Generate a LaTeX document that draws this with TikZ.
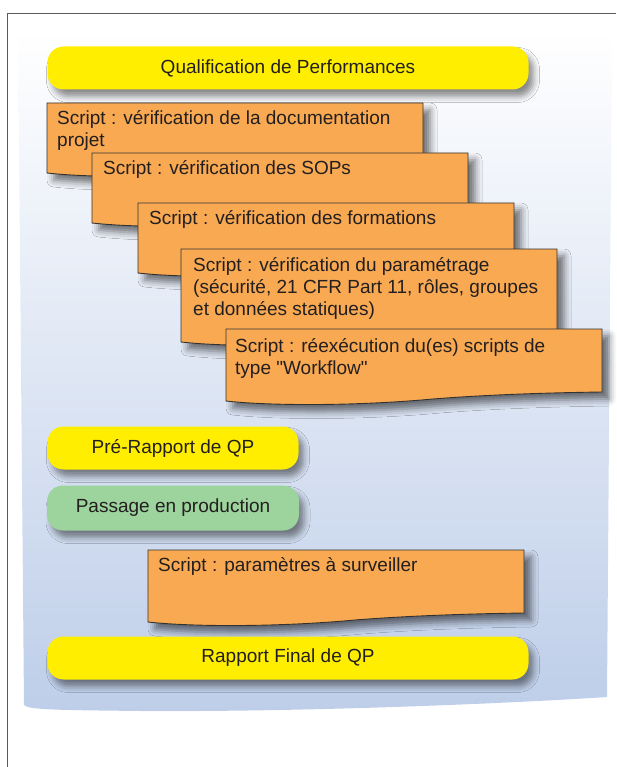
\documentclass[tikz,border=0pt]{standalone}
\usepackage{fontspec}
\setmainfont{Liberation Sans}[Ligatures=TeXOff]
\definecolor{qpyellow}{RGB}{255,238,0}
\definecolor{qporange}{RGB}{248,169,82}
\definecolor{qpgreen}{RGB}{157,211,156}
\definecolor{qptext}{RGB}{35,31,32}
\definecolor{qpline}{RGB}{50,50,50}
\definecolor{qpframe}{RGB}{90,90,90}
\definecolor{panelmid}{RGB}{212,222,240}
\definecolor{panelbot}{RGB}{190,206,233}
\usetikzlibrary{positioning,shadows.blur}

% document shape: x, y (top left), width, height (right side)
\newcommand{\docbox}[4]{%
  \draw[docshape] (#1,#2) -- (#1+#3,#2) -- (#1+#3,#2+#4)
    .. controls (#1+0.8*#3,#2+#4+1) and (#1+0.65*#3,#2+#4+4) .. (#1+0.55*#3,#2+#4+7)
    .. controls (#1+0.35*#3,#2+#4+14) and (#1+0.12*#3,#2+#4+14) .. (#1,#2+#4+9) -- cycle;}

\begin{document}
\begin{tikzpicture}[x=1pt, y=-1pt,
  pill/.style={rectangle, rounded corners=16pt, minimum height=43pt,
               font=\fontsize{19}{22}\selectfont, text=qptext, align=center,
               blur shadow={shadow xshift=5pt, shadow yshift=-7pt,
                            shadow blur radius=6pt, shadow opacity=45}},
  docshape/.style={draw=qpline, line width=0.9pt, fill=qporange,
               blur shadow={shadow xshift=7pt, shadow yshift=-7pt,
                            shadow blur radius=7pt, shadow opacity=55}},
  doctext/.style={anchor=north west, inner sep=0pt, align=left, text=qptext,
               font=\fontsize{19}{22}\selectfont}
]
\useasboundingbox (0,0) rectangle (616,767);

% Background panel
\shade[top color=white, middle color=panelmid, bottom color=panelbot]
  (18,30) -- (612,30) -- (607,697)
  .. controls (500,704) and (300,712) .. (140,711)
  .. controls (60,710) and (28,710) .. (24,705) -- cycle;

% Frame
\draw[qpframe, line width=1pt] (7,767) -- (7,14) -- (616,14);

% Phases
\node[pill, fill=qpyellow, minimum width=481pt] (qp) at (288,68)
  {Qualification de Performances};

% Scripts
\docbox{47}{103}{376}{61}
\node[doctext] (doc) at (57,110)
  {Script : vérification de la documentation\\projet};

\docbox{92}{153}{376}{61}
\node[doctext] (sop) at (103,160) {Script : vérification des SOPs};

\docbox{138}{203}{376}{61}
\node[doctext] (form) at (149,210) {Script : vérification des formations};

\docbox{181}{249}{376}{84}
\node[doctext] (param) at (193,257)
  {Script : vérification du paramétrage\\(sécurité, 21 CFR Part 11, rôles, groupes\\et données statiques)};

\docbox{226}{329}{376}{63}
\node[doctext] (wf) at (235,338)
  {Script : réexécution du(es) scripts de\\type "Workflow"};

\node[pill, fill=qpyellow, minimum width=251pt] (prerap) at (173,448)
  {Pré-Rapport de QP};

\node[pill, fill=qpgreen, minimum width=252pt, minimum height=45pt] (prod) at (173,508)
  {Passage en production};

\docbox{148}{550}{376}{63}
\node[doctext] (surv) at (158,557) {Script : paramètres à surveiller};

\node[pill, fill=qpyellow, minimum width=481pt] (final) at (288,658)
  {Rapport Final de QP};
\end{tikzpicture}
\end{document}
